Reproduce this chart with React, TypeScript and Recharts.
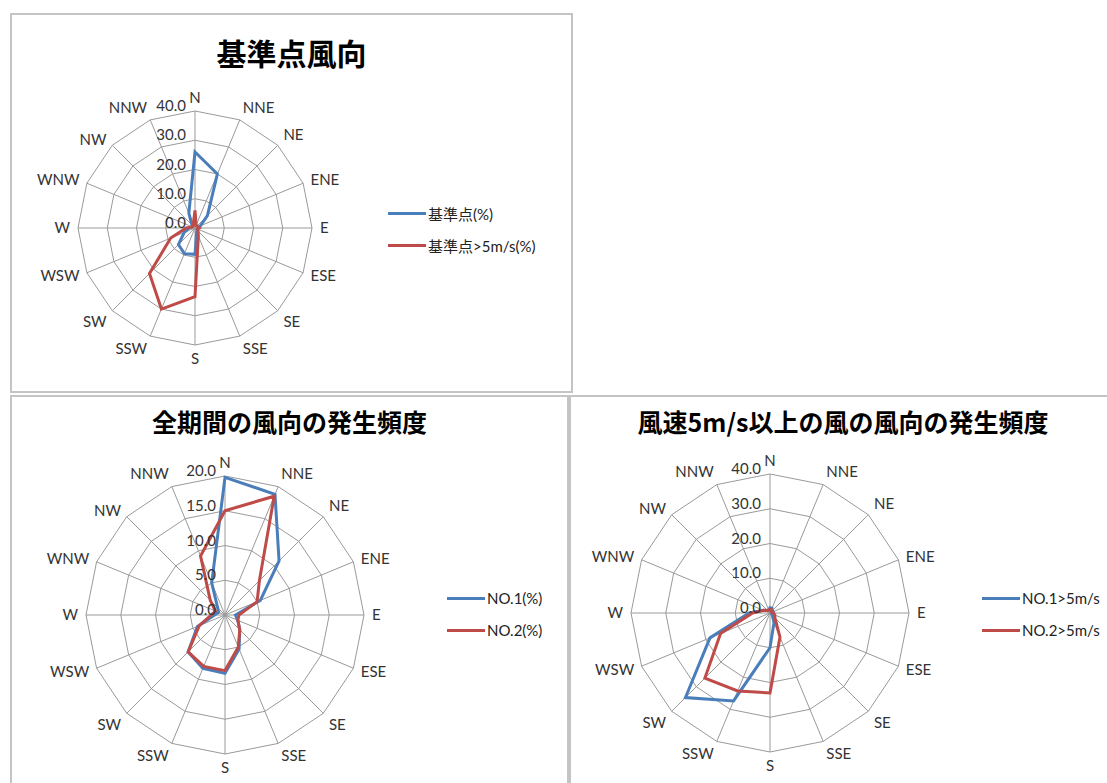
import { RadarChart, Radar, PolarGrid, PolarAngleAxis, PolarRadiusAxis, Legend } from "recharts";

const directions = ["N", "NNE", "NE", "ENE", "E", "ESE", "SE", "SSE", "S", "SSW", "SW", "WSW", "W", "WNW", "NW", "NNW"];

// 基準点風向
const kijunAll = [26, 20, 6, 2, 1, 1, 1, 1.5, 9, 9.5, 8, 4, 2, 1, 1.5, 5.5];
const kijunStrong = [6, 1, 1, 1, 1.5, 1, 1.5, 3, 23.5, 30, 22, 9, 3, 1, 1, 1.5];

// 全期間の風向の発生頻度
const no1All = [19.8, 18.8, 11, 5.5, 1.5, 2, 3, 5.3, 8.4, 8.3, 7.5, 4.3, 1.5, 1, 1.5, 5];
const no2All = [15, 18.5, 7, 5, 2, 2, 3, 5, 8, 8, 7.5, 4, 2, 1.5, 3, 9.2];

// 風速5m/s以上の風の風向の発生頻度
const no1Strong = [1.5, 1.5, 1, 1, 0.5, 0.5, 1, 3, 10, 27.4, 34.4, 18.7, 6, 2, 1, 1];
const no2Strong = [1, 1, 0.5, 0.5, 1, 1.5, 2, 7.5, 23, 24.3, 26.5, 15.4, 5, 2, 1, 1];

const BLUE = "#4a7ebb";
const RED = "#be4b48";
const FONT = "Lato, 'Noto Sans CJK JP', sans-serif";

function buildRows(a: number[], b: number[]) {
  return directions.map((dir, i) => ({ dir, a: a[i], b: b[i] }));
}

interface WindRoseProps {
  left: number;
  top: number;
  width: number;
  height: number;
  title: string;
  titleSize: number;
  titleTop: number;
  cx: number;
  cy: number;
  radius: number;
  max: number;
  ticks: number[];
  rows: { dir: string; a: number; b: number }[];
  nameA: string;
  nameB: string;
  legendLeft: number;
  legendTop: number;
}

function LegendBox({ payload }: any) {
  return (
    <div style={{ fontFamily: FONT, fontSize: 15, color: "#222" }}>
      {(payload || []).map((p: any) => (
        <div key={p.value} style={{ display: "flex", alignItems: "center", height: 32 }}>
          <div style={{ width: 38, height: 3, background: p.color, marginRight: 2 }} />
          <span>{p.value}</span>
        </div>
      ))}
    </div>
  );
}

function WindRose(props: WindRoseProps) {
  const { left, top, width, height, title, titleSize, titleTop, cx, cy, radius, max, ticks, rows } = props;
  return (
    <div
      style={{
        position: "absolute",
        left,
        top,
        width,
        height,
        border: "2px solid #c4c4c4",
        background: "#fff",
        overflow: "hidden",
      }}
    >
      <div
        style={{
          position: "absolute",
          left: 0,
          width: "100%",
          top: titleTop,
          textAlign: "center",
          fontFamily: "'Noto Sans CJK JP', sans-serif",
          fontWeight: 700,
          fontSize: titleSize,
          color: "#000",
          lineHeight: 1,
        }}
      >
        {title}
      </div>
      <RadarChart width={width} height={height} data={rows} cx={cx} cy={cy} outerRadius={radius}>
        <PolarGrid gridType="polygon" stroke="#9a9a9a" strokeWidth={1} />
        <PolarAngleAxis
          dataKey="dir"
          tick={{ fontSize: 15, fill: "#333", fontFamily: FONT }}
          tickLine={false}
          axisLine={false}
        />
        <PolarRadiusAxis
          angle={90}
          domain={[0, max]}
          ticks={ticks}
          orientation="left"
          axisLine={false}
          tickLine={false}
          tickFormatter={(v: number) => v.toFixed(1)}
          tick={{ fontSize: 15, fill: "#333", fontFamily: FONT, dx: -9 }}
        />
        <Radar name={props.nameA} dataKey="a" stroke={BLUE} strokeWidth={3} fill="none" fillOpacity={0} dot={false} isAnimationActive={false} />
        <Radar name={props.nameB} dataKey="b" stroke={RED} strokeWidth={3} fill="none" fillOpacity={0} dot={false} isAnimationActive={false} />
        <Legend
          layout="vertical"
          content={<LegendBox />}
          wrapperStyle={{ position: "absolute", left: props.legendLeft, top: props.legendTop, width: 170 }}
        />
      </RadarChart>
    </div>
  );
}

export default function App() {
  return (
    <div style={{ position: "absolute", left: 0, top: 0, width: 1107, height: 783, background: "#fff", overflow: "hidden" }}>
      <WindRose
        left={10}
        top={13}
        width={559}
        height={376}
        title="基準点風向"
        titleSize={30}
        titleTop={22}
        cx={183}
        cy={213}
        radius={117}
        max={40}
        ticks={[0, 10, 20, 30, 40]}
        rows={buildRows(kijunAll, kijunStrong)}
        nameA="基準点(%)"
        nameB="基準点>5m/s(%)"
        legendLeft={376}
        legendTop={182}
      />
      <WindRose
        left={10}
        top={395}
        width={555}
        height={400}
        title="全期間の風向の発生頻度"
        titleSize={25}
        titleTop={12}
        cx={213}
        cy={218}
        radius={139}
        max={20}
        ticks={[0, 5, 10, 15, 20]}
        rows={buildRows(no1All, no2All)}
        nameA="NO.1(%)"
        nameB="NO.2(%)"
        legendLeft={435}
        legendTop={185}
      />
      <WindRose
        left={569}
        top={395}
        width={544}
        height={400}
        title="風速5m/s以上の風の風向の発生頻度"
        titleSize={25}
        titleTop={12}
        cx={199}
        cy={216}
        radius={139}
        max={40}
        ticks={[0, 10, 20, 30, 40]}
        rows={buildRows(no1Strong, no2Strong)}
        nameA="NO.1>5m/s"
        nameB="NO.2>5m/s"
        legendLeft={411}
        legendTop={185}
      />
    </div>
  );
}
